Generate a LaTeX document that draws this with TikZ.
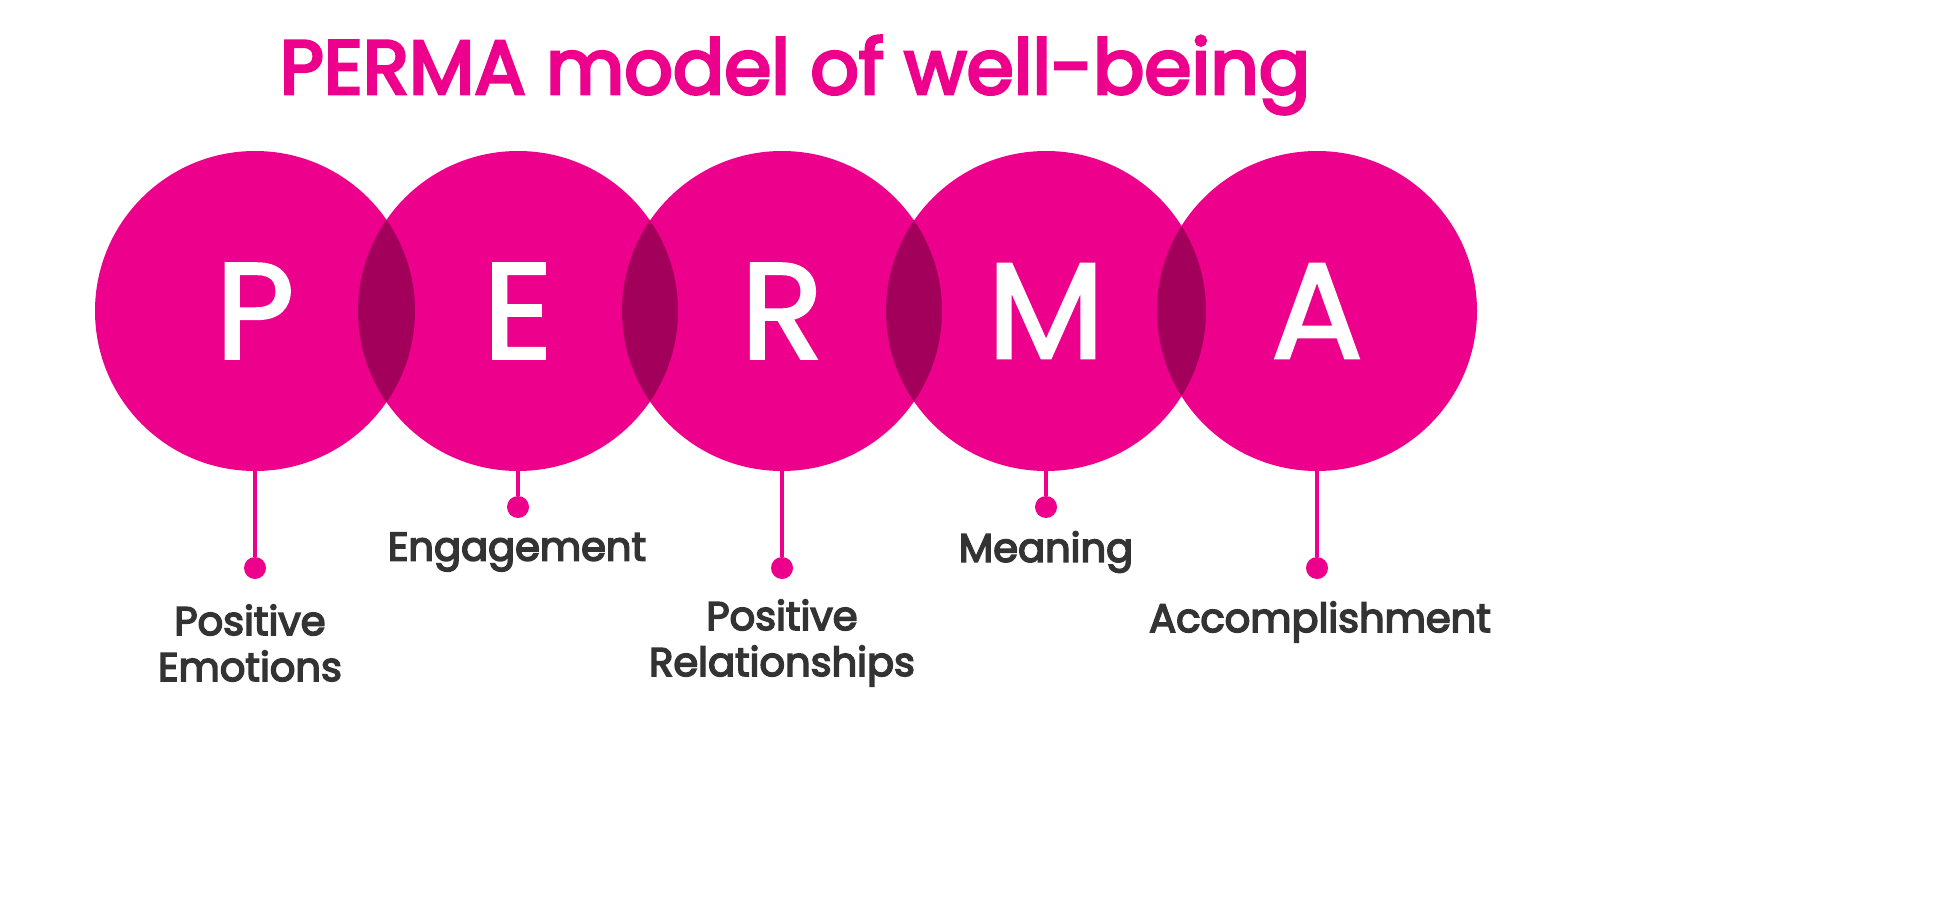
\documentclass[tikz,border=0pt]{standalone}
\usepackage{fontspec}
\setmainfont{Poppins}
\newfontfamily\pmed[FakeBold=2]{Poppins}
\newfontfamily\psemi[FakeBold=4]{Poppins}
\definecolor{pk}{HTML}{EC008C}
\definecolor{dk}{HTML}{A3005C}
\definecolor{tx}{HTML}{333333}
\begin{document}
\begin{tikzpicture}[x=1pt,y=-1pt,
  lbl/.style={text=tx,font=\fontsize{40}{46}\selectfont\psemi,align=center},
  big/.style={text=white,font=\fontsize{136}{136}\pmed},
  dotc/.style={fill=pk,circle,inner sep=0pt,minimum size=22pt}]
\useasboundingbox (0,0) rectangle (1953,912);
\node[text=pk,font=\fontsize{76}{80}\selectfont\psemi] (title) at (795,75) {PERMA model of well-being};
\foreach \n/\x in {1/255,2/518,3/782,4/1046,5/1317}{
  \fill[pk] (\x,311) circle (160);
  \coordinate (c\n) at (\x,311);
  \coordinate (b\n) at (\x,471);
}
\foreach \a/\b in {255/518,518/782,782/1046,1046/1317}{
  \begin{scope}\clip (\a,311) circle (160); \fill[dk] (\b,311) circle (160);\end{scope}
}
\foreach \n/\l in {1/P,2/E,3/R,4/M,5/A}{ \node[big] (L\n) at (c\n) {\l}; }
\node[dotc] (d1) at (255,568) {};
\node[dotc] (d2) at (518,507) {};
\node[dotc] (d3) at (782,568) {};
\node[dotc] (d4) at (1046,507) {};
\node[dotc] (d5) at (1317,568) {};
\foreach \n in {1,...,5}{ \draw[pk,line width=4pt] (b\n) -- (d\n); }
\node[lbl] (t1) at (250,643) {Positive\\Emotions};
\node[lbl] (t2) at (517,552) {Engagement};
\node[lbl] (t3) at (782,643) {Positive\\Relationships};
\node[lbl] (t4) at (1046,552) {Meaning};
\node[lbl] (t5) at (1320,622) {Accomplishment};
\end{tikzpicture}
\end{document}
